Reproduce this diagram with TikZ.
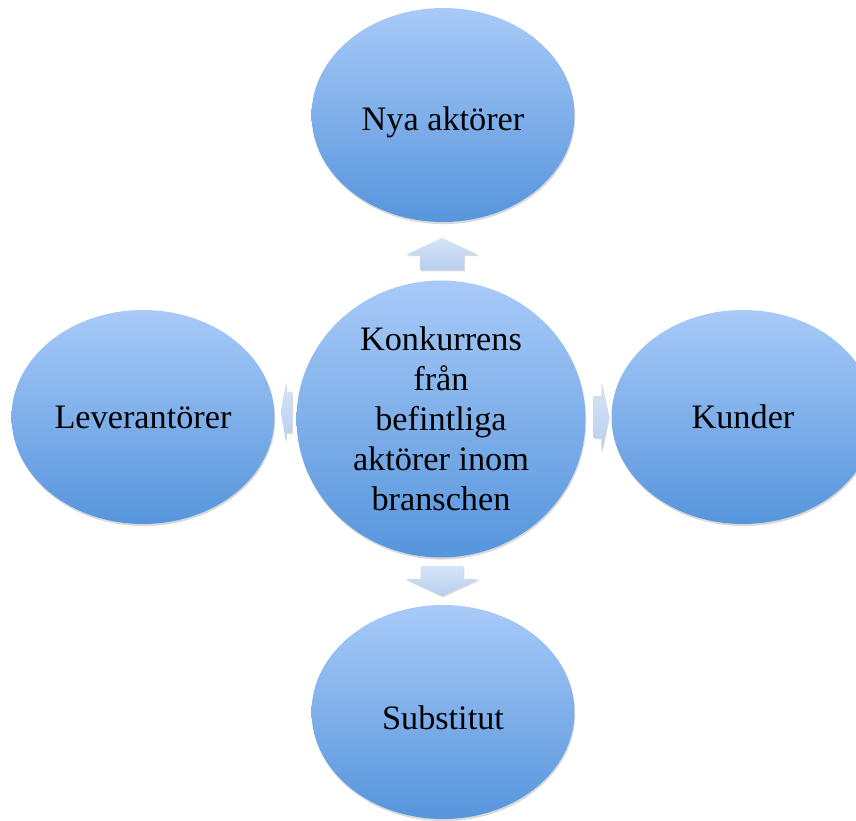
\documentclass[tikz,border=0pt]{standalone}
\usepackage{fontspec}
\setmainfont{Liberation Serif}
\usetikzlibrary{shapes.geometric,shapes.arrows,shadows}
\definecolor{balltop}{RGB}{168,202,248}
\definecolor{ballbot}{RGB}{86,149,220}
\definecolor{piltop}{RGB}{214,228,248}
\definecolor{pilbot}{RGB}{184,206,238}
\tikzset{
  ball/.style={ellipse, minimum width=5.26cm, minimum height=4.28cm, inner sep=0pt,
    top color=balltop, bottom color=ballbot, draw=none,
    drop shadow={shadow xshift=0.4pt, shadow yshift=-1.2pt, opacity=0.3},
    font=\fontsize{19.5}{22.7}\selectfont, align=center},
  pil/.style={single arrow, draw=none, inner xsep=0pt, top color=piltop, bottom color=pilbot,
    drop shadow={shadow xshift=0.6pt, shadow yshift=-0.8pt, opacity=0.3}}
}
\begin{document}
\begin{tikzpicture}[x=0.02cm,y=-0.02cm]
      \useasboundingbox (0,0) rectangle (856,821);
      \node [ball, text height=0.76cm, text depth=0.15cm] (nya) at (443,115) {Nya aktörer};
      \node [ball] (lev) at (143,417) {Leverantörer};
      \node [ball] (kund) at (743,417) {Kunder};
      \node [ball, text height=0.86cm, text depth=0.15cm] (subst) at (443,712) {Substitut};
      \node [ball, minimum width=5.78cm, minimum height=5.54cm] (konk) at (441,419)
        {Konkurrens\\från\\befintliga\\aktörer inom\\branschen};
      \node [pil, rotate=90, minimum height=0.64cm, inner ysep=0.43cm,
        single arrow head extend=0.28cm, single arrow tip angle=130] (upp) at (442,259) {};
      \node [pil, rotate=-90, minimum height=0.6cm, inner ysep=0.42cm,
        single arrow head extend=0.3cm, single arrow tip angle=130] (ned) at (442,576) {};
      \node [pil, rotate=180, minimum height=0.22cm, inner ysep=0.4cm,
        single arrow head extend=0.2cm, single arrow tip angle=160] (vanster) at (288,412) {};
      \node [pil, minimum height=0.3cm, inner ysep=0.41cm,
        single arrow head extend=0.27cm, single arrow tip angle=156] (hoger) at (599,417) {};
    \end{tikzpicture}
\end{document}
